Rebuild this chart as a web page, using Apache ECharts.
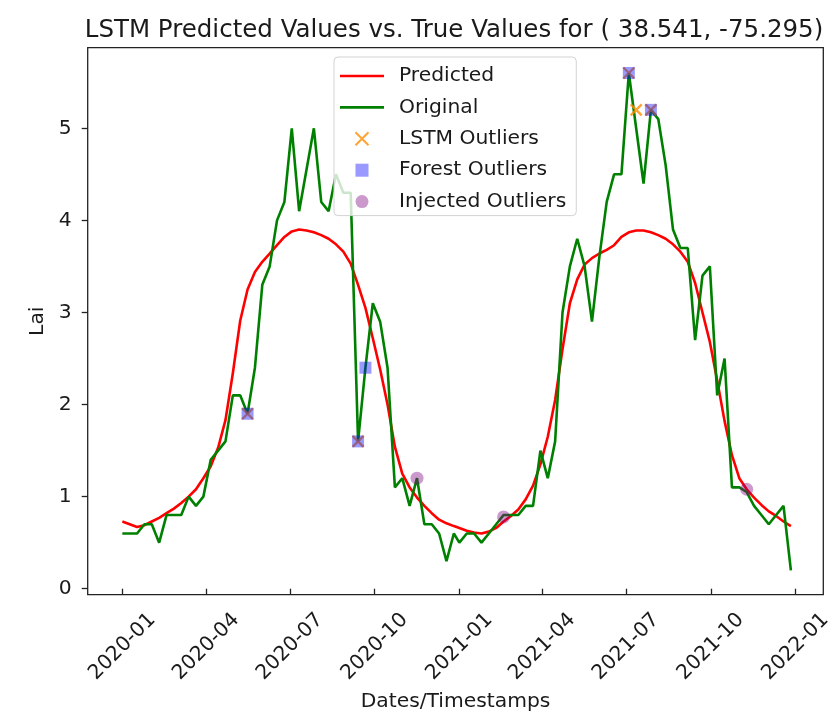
<!DOCTYPE html>
<html>
<head>
<meta charset="utf-8">
<script src="https://cdn.jsdelivr.net/npm/echarts@6/dist/echarts.min.js"></script>
<style>
html,body{margin:0;padding:0;background:#fff;}
#chart{width:831px;height:714px;}
</style>
</head>
<body>
<div id="chart"></div>
<script>
// 8-day composite dates (day of year) for each year
const years = [2020, 2021];
const dayOfYear = [1,9,17,25,33,41,49,57,65,73,81,89,97,105,113,121,129,137,145,153,161,169,177,185,193,201,209,217,225,233,241,249,257,265,273,281,289,297,305,313,321,329,337,345,353,361];

// Original (true) LAI values
const original2020 = [0.6,0.6,0.6,0.7,0.7,0.5,0.8,0.8,0.8,1.0,0.9,1.0,1.4,1.5,1.6,2.1,2.1,1.9,2.4,3.3,3.5,4.0,4.2,5.0,4.1,4.55,5.0,4.2,4.1,4.5,4.3,4.3,1.6,2.4,3.1,2.9,2.4,1.1,1.2,0.9,1.2,0.7,0.7,0.6,0.3,0.6];
const original2021 = [0.5,0.6,0.6,0.5,0.6,0.7,0.8,0.8,0.8,0.9,0.9,1.5,1.2,1.6,3.0,3.5,3.8,3.5,2.9,3.6,4.2,4.5,4.5,5.6,5.0,4.4,5.2,5.1,4.6,3.9,3.7,3.7,2.7,3.4,3.5,2.1,2.5,1.1,1.1,1.05,0.9,0.8,0.7,0.8,0.9,0.2];

// LSTM predicted values
const predicted2020 = [0.73,0.70,0.67,0.69,0.73,0.77,0.82,0.87,0.93,1.0,1.08,1.2,1.33,1.53,1.83,2.34,2.91,3.25,3.44,3.55,3.64,3.73,3.82,3.88,3.9,3.89,3.87,3.84,3.8,3.74,3.66,3.53,3.3,3.05,2.72,2.38,2.0,1.54,1.25,1.1,0.99,0.9,0.82,0.75,0.71,0.68];
const predicted2021 = [0.66,0.63,0.61,0.6,0.62,0.66,0.73,0.79,0.86,0.97,1.12,1.35,1.65,2.05,2.6,3.1,3.36,3.52,3.59,3.64,3.68,3.73,3.82,3.87,3.89,3.89,3.87,3.84,3.8,3.74,3.66,3.55,3.32,3.0,2.68,2.26,1.82,1.45,1.2,1.08,0.99,0.91,0.84,0.79,0.73,0.68];

// Outliers
const lstmDates = ['2020-05-16','2020-09-13','2021-07-04','2021-07-12','2021-07-28'];
const lstmValues = [1.9,1.6,5.6,5.2,5.2];
const forestDates = ['2020-05-16','2020-09-13','2020-09-21','2021-07-04','2021-07-28'];
const forestValues = [1.9,1.6,2.4,5.6,5.2];
const injectedDates = ['2020-11-16','2021-02-18','2021-11-09'];
const injectedValues = [1.2,0.78,1.08];

// Axis tick labels
const xTickLabels = ['2020-01','2020-04','2020-07','2020-10','2021-01','2021-04','2021-07','2021-10','2022-01'];
const yTickValues = [0,1,2,3,4,5];

const DAY = 86400000;
function doyToTs(y, d){ return Date.UTC(y,0,1) + (d-1)*DAY; }
function strToTs(s){ const p = s.split('-').map(Number); return Date.UTC(p[0], p[1]-1, p[2] || 1); }
function pad2(n){ return (n<10?'0':'') + n; }

const timestamps = [];
years.forEach(y => dayOfYear.forEach(d => timestamps.push(doyToTs(y,d))));
const originalAll = original2020.concat(original2021);
const predictedAll = predicted2020.concat(predicted2021);
const pair = (ts, vals) => ts.map((t,i) => [t, vals[i]]);

const xTickTs = xTickLabels.map(strToTs);
const xMin = strToTs('2020-01-01') - 37.6*DAY;
const xMax = strToTs('2022-01-01') + 30.2*DAY;

const FONT = 'DejaVu Sans';
const TXT = '#1a1a1a';
const FS = 20.3;
const LINE_ICON = 'path://M0,0H44V2.6H0Z';
const X_ICON = 'path://M0,0L10,10M10,0L0,10';
const SQ_ICON = 'path://M0,0H10V10H0Z';

const chart = echarts.init(document.getElementById('chart'), null, {renderer:'canvas'});
chart.setOption({
  animation: false,
  backgroundColor: '#ffffff',
  textStyle: {fontFamily: FONT},
  title: {
    text: 'LSTM Predicted Values vs. True Values for ( 38.541, -75.295)',
    left: 449, textAlign: 'center', top: 13,
    textStyle: {fontFamily: FONT, fontSize: 24.5, fontWeight: 'normal', color: TXT}
  },
  grid: {
    left: 87.7, right: 7.7, top: 47.7, bottom: 119.3,
    containLabel: false, outerBoundsMode: 'none',
    show: true, borderColor: '#222', borderWidth: 1.3, backgroundColor: 'transparent'
  },
  legend: {
    orient: 'vertical', left: 334, top: 57,
    padding: [9, 10, 4, 6],
    itemWidth: 44, itemHeight: 13, itemGap: 11.4,
    backgroundColor: 'rgba(255,255,255,0.8)',
    borderColor: '#d3d3d3', borderWidth: 1, borderRadius: 4,
    textStyle: {fontFamily: FONT, fontSize: FS, color: TXT, lineHeight: 20, padding: [0,0,0,10]},
    data: [
      {name: 'Predicted', icon: LINE_ICON},
      {name: 'Original', icon: LINE_ICON},
      {name: 'LSTM Outliers', icon: X_ICON},
      {name: 'Forest Outliers', icon: SQ_ICON},
      {name: 'Injected Outliers', icon: 'circle'}
    ]
  },
  xAxis: {
    type: 'value', min: xMin, max: xMax,
    name: 'Dates/Timestamps', nameLocation: 'middle', nameGap: 97,
    nameTextStyle: {fontFamily: FONT, fontSize: FS, color: TXT},
    axisLine: {show: false},
    axisTick: {show: true, customValues: xTickTs, length: 6, lineStyle: {color: '#222', width: 1.3}},
    axisLabel: {
      customValues: xTickTs, rotate: 45, align: 'center', verticalAlign: 'middle', margin: 52,
      fontFamily: FONT, fontSize: FS, color: TXT,
      formatter: function(v){ const d = new Date(v); return d.getUTCFullYear() + '-' + pad2(d.getUTCMonth()+1); }
    },
    splitLine: {show: false}
  },
  yAxis: {
    type: 'value', min: -0.065, max: 5.875,
    name: 'Lai', nameLocation: 'middle', nameGap: 40, nameRotate: 90,
    nameTextStyle: {fontFamily: FONT, fontSize: FS, color: TXT},
    axisLine: {show: false},
    axisTick: {show: true, customValues: yTickValues, length: 6, lineStyle: {color: '#222', width: 1.3}},
    axisLabel: {customValues: yTickValues, margin: 16, fontFamily: FONT, fontSize: FS, color: TXT},
    splitLine: {show: false}
  },
  series: [
    {name: 'Predicted', type: 'line', data: pair(timestamps, predictedAll), symbol: 'none',
     lineStyle: {color: '#ff0000', width: 2.6}, itemStyle: {color: '#ff0000'}, z: 2},
    {name: 'Original', type: 'line', data: pair(timestamps, originalAll), symbol: 'none',
     lineStyle: {color: '#008000', width: 2.6}, itemStyle: {color: '#008000'}, z: 2},
    {name: 'LSTM Outliers', type: 'scatter', data: pair(lstmDates.map(strToTs), lstmValues),
     symbol: X_ICON, symbolSize: 11,
     itemStyle: {color: 'rgba(0,0,0,0)', borderColor: '#ff8c00', borderWidth: 2.4}, z: 3},
    {name: 'Forest Outliers', type: 'scatter', data: pair(forestDates.map(strToTs), forestValues),
     symbol: 'rect', symbolSize: 12,
     itemStyle: {color: 'rgba(0,0,255,0.5)'}, z: 3},
    {name: 'Injected Outliers', type: 'scatter', data: pair(injectedDates.map(strToTs), injectedValues),
     symbol: 'circle', symbolSize: 13,
     itemStyle: {color: 'rgba(128,0,128,0.5)'}, z: 3}
  ]
});
</script>
</body>
</html>
